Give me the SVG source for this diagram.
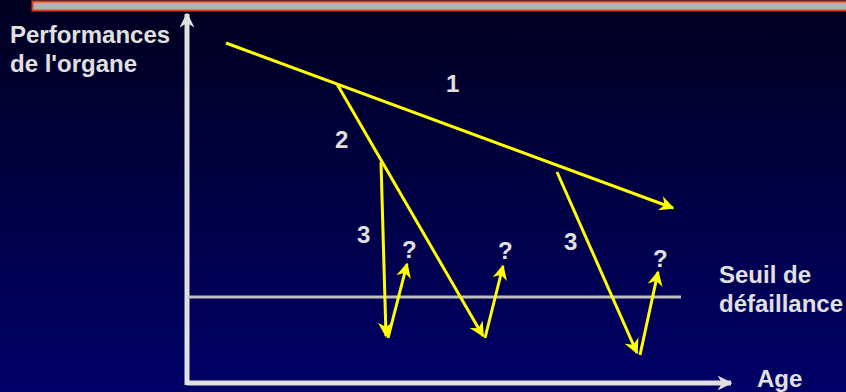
<svg xmlns="http://www.w3.org/2000/svg" width="846" height="392" viewBox="0 0 846 392">
<defs>
<linearGradient id="bg" x1="0" y1="0" x2="0" y2="1">
<stop offset="0" stop-color="#000020"/>
<stop offset="1" stop-color="#000068"/>
</linearGradient>
<marker id="ya" viewBox="0 0 10 10" refX="9" refY="5" markerWidth="5" markerHeight="5" orient="auto" markerUnits="strokeWidth">
<path d="M0,0 L10,5 L0,10 L3,5 Z" fill="#ffff00"/>
</marker>
<marker id="wa" viewBox="0 0 10 10" refX="9" refY="5" markerWidth="3" markerHeight="3" orient="auto" markerUnits="strokeWidth">
<path d="M0,0 L10,5 L0,10 L3,5 Z" fill="#e0e0e0"/>
</marker>
<style>
.t{font-family:"Liberation Sans",Arial,sans-serif;font-weight:bold;font-size:24px;fill:#e0e0e0}
.ym{stroke:#ffff00;stroke-width:3;fill:none;marker-end:url(#ya)}
.ax{stroke:#e0e0e0;stroke-width:5;fill:none;marker-end:url(#wa)}
</style>
</defs>
<rect width="846" height="392" fill="url(#bg)"/>
<rect x="32.5" y="1.5" width="815" height="9" fill="#b4b4b4" stroke="#e0401c" stroke-width="2"/>
<g id="axes">
<path class="ax" d="M187,385 V14"/>
<path class="ax" d="M187,383 H731"/>
</g>
<g id="threshold">
<line x1="188" y1="297" x2="681" y2="297" stroke="#c0c0c0" stroke-width="3"/>
</g>
<g id="connectors">
<path class="ym" d="M226,43 L673,208"/>
<path class="ym" d="M337,84 L483,336"/>
<path class="ym" d="M381,162 L386,336"/>
<path class="ym" d="M388,338 L407,264"/>
<path class="ym" d="M485,338 L503,266"/>
<path class="ym" d="M557,172 L637,353"/>
<path class="ym" d="M640,355 L658,272"/>
</g>
<g id="labels">
<text class="t" x="10" y="43">Performances</text>
<text class="t" x="10" y="72">de l'organe</text>
<text class="t" x="446" y="92">1</text>
<text class="t" x="335" y="148">2</text>
<text class="t" x="357" y="243">3</text>
<text class="t" x="564" y="250">3</text>
<text class="t" x="402" y="258">?</text>
<text class="t" x="498" y="259">?</text>
<text class="t" x="653" y="267">?</text>
<text class="t" x="719" y="283">Seuil de</text>
<text class="t" x="719" y="312">défaillance</text>
<text class="t" x="757" y="387">Age</text>
</g>
</svg>
